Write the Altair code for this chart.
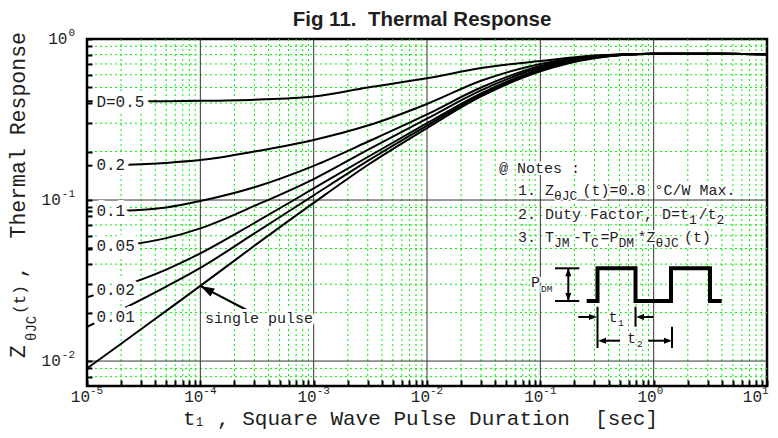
import math
import altair as alt
import pandas as pd

W, H = 680, 347
XMIN, XMAX = 1e-5, 10.0
YMIN, YMAX = 0.007, 1.0
MONO = "Liberation Mono"
SANS = "Liberation Sans"
INK = "#1e1e1e"
NB = "\u00a0"

# ---------------- data ----------------
t_vals = [1e-5, 2e-5, 5e-5, 1e-4, 3e-4, 1e-3, 3e-3, 1e-2, 3e-2, 1e-1, 3e-1, 1, 3, 10]
z_d05 = [0.41, 0.41, 0.411, 0.413, 0.42, 0.44, 0.50, 0.57, 0.66, 0.73, 0.79, 0.81, 0.81, 0.805]
z_d02 = [0.163, 0.165, 0.170, 0.177, 0.200, 0.236, 0.29, 0.395, 0.55, 0.70, 0.785, 0.81, 0.81, 0.805]
z_d01 = [0.085, 0.0858, 0.090, 0.0986, 0.120, 0.163, 0.23, 0.34, 0.50, 0.68, 0.78, 0.81, 0.81, 0.805]
z_d005 = [0.050, 0.052, 0.058, 0.0667, 0.092, 0.135, 0.205, 0.32, 0.48, 0.665, 0.775, 0.81, 0.81, 0.805]
z_d002 = [0.0249, 0.029, 0.037, 0.0466, 0.072, 0.118, 0.185, 0.30, 0.46, 0.65, 0.77, 0.81, 0.81, 0.805]
z_d001 = [0.0163, 0.0208, 0.029, 0.0379, 0.062, 0.107, 0.175, 0.29, 0.45, 0.64, 0.765, 0.81, 0.81, 0.805]
z_single = [0.009, 0.0128, 0.0205, 0.0293, 0.052, 0.096, 0.165, 0.28, 0.44, 0.63, 0.76, 0.81, 0.81, 0.805]
series_names = ["D=0.5", "0.2", "0.1", "0.05", "0.02", "0.01", "single pulse"]
series_values = [z_d05, z_d02, z_d01, z_d005, z_d002, z_d001, z_single]

curve_labels = ["D=0.5", "0.2", "0.1", "0.05", "0.02", "0.01"]
curve_label_z = [0.409, 0.165, 0.0859, 0.0516, 0.0276, 0.0188]
curve_label_t = 1.21e-5

x_major = [1e-5, 1e-4, 1e-3, 1e-2, 1e-1, 1.0, 10.0]
x_exp = ["-5", "-4", "-3", "-2", "-1", "0", "1"]
y_major = [0.01, 0.1, 1.0]
y_exp = ["-2", "-1", "0"]
x_minor = [round(m * 10.0 ** e, 12) for e in range(-5, 1) for m in range(2, 10)]
y_minor = [0.008, 0.009] + [round(m * 10.0 ** e, 12) for e in (-2, -1) for m in range(2, 10)]


# ---------------- helpers (plot-relative pixels -> data) ----------------
def t_at(px):
    lo, hi = math.log10(XMIN), math.log10(XMAX)
    return 10 ** (lo + px / W * (hi - lo))


def px_of(t):
    lo, hi = math.log10(XMIN), math.log10(XMAX)
    return (math.log10(t) - lo) / (hi - lo) * W


def z_at(py):
    lo, hi = math.log10(YMIN), math.log10(YMAX)
    return 10 ** (hi - py / H * (hi - lo))


xs = alt.Scale(type="log", domain=[XMIN, XMAX], nice=False)
ys = alt.Scale(type="log", domain=[YMIN, YMAX], nice=False)
xaxis = alt.Axis(values=x_minor + x_major, labels=False, grid=False, domain=False, title=None,
                 ticks=True, tickSize=6, tickWidth=2, tickColor="black", offset=-6, zindex=1)
yaxis = alt.Axis(values=y_minor + y_major, labels=False, grid=False, domain=False, title=None,
                 ticks=True, tickSize=5, tickWidth=2, tickColor="black", offset=-5, zindex=1)


def X(f="t"):
    return alt.X(f"{f}:Q", scale=xs, axis=xaxis)


def Y(f="z"):
    return alt.Y(f"{f}:Q", scale=ys, axis=yaxis)


def text_rows(rows):
    return pd.DataFrame([{"t": t_at(px), "z": z_at(py), "label": s} for px, py, s in rows])


def text_layers(rows, size, halo=0, align="left", baseline="alphabetic", font=MONO):
    df = text_rows(rows)
    enc = dict(x=X(), y=Y(), text=alt.Text("label:N"))
    out = []
    if halo:
        out.append(alt.Chart(df).mark_text(font=font, fontSize=size, align=align, baseline=baseline,
                                           color="white", stroke="white", strokeWidth=halo,
                                           strokeJoin="round").encode(**enc))
    out.append(alt.Chart(df).mark_text(font=font, fontSize=size, align=align, baseline=baseline,
                                       color=INK).encode(**enc))
    return out


def lay(x0, base, parts, adv=9.0, sadv=9.5, sdy=5):
    main, sub = [], []
    x = x0
    for txt, k in parts:
        if k == "n":
            main.append((x, base, txt))
            x += adv * len(txt)
        else:
            sub.append((x, base + sdy, txt))
            x += sadv * len(txt)
    return main, sub


def vtext(txt, px, py, size, angle=0, align="left", weight="normal", font=MONO):
    return alt.Chart(pd.DataFrame({"a": [0]})).mark_text(
        font=font, fontSize=size, align=align, baseline="alphabetic", angle=angle,
        fontWeight=weight, color=INK, text=txt).encode(x=alt.value(px), y=alt.value(py))


layers = []

# ---------------- grid ----------------
layers.append(alt.Chart(pd.DataFrame({"t": x_minor})).mark_rule(
    color="#00ee00", strokeWidth=1, strokeDash=[2, 3]).encode(x=X()))
layers.append(alt.Chart(pd.DataFrame({"z": y_minor})).mark_rule(
    color="#00ee00", strokeWidth=1, strokeDash=[2, 3]).encode(y=Y()))
layers.append(alt.Chart(pd.DataFrame({"t": x_major[1:-1]})).mark_rule(
    color="#333333", strokeWidth=1).encode(x=X()))
layers.append(alt.Chart(pd.DataFrame({"z": y_major[:-1]})).mark_rule(
    color="#333333", strokeWidth=1).encode(y=Y()))

# ---------------- curves ----------------
curve_df = pd.DataFrame([{"t": t, "z": z, "series": name}
                         for name, vals in zip(series_names, series_values)
                         for t, z in zip(t_vals, vals)])
layers.append(alt.Chart(curve_df).mark_line(color="black", strokeWidth=2, interpolate="monotone",
                                            clip=True).encode(x=X(), y=Y(), detail="series:N"))

# curve labels
lab_df = pd.DataFrame({"t": [curve_label_t] * len(curve_labels), "z": curve_label_z, "label": curve_labels})
for halo in (10, 0):
    kw = dict(color="white", stroke="white", strokeWidth=halo, strokeJoin="round") if halo else dict(color=INK)
    layers.append(alt.Chart(lab_df).mark_text(font=MONO, fontSize=16, align="left", baseline="middle", **kw)
                  .encode(x=X(), y=Y(), text="label:N"))

# ---------------- single pulse arrow ----------------
tip_t, tip_z = 1e-4, z_single[t_vals.index(1e-4)]
sp_df = pd.DataFrame([{"t": t_at(159.7), "z": z_at(271), "t2": tip_t, "z2": tip_z}])
layers.append(alt.Chart(sp_df).mark_rule(color="black", strokeWidth=2).encode(
    x=X(), y=Y(), x2="t2:Q", y2="z2:Q"))
layers.append(alt.Chart(pd.DataFrame([{"t": tip_t, "z": tip_z, "ang": 28.4}])).mark_point(
    shape="M0,0L2,-0.65L2,0.65Z", filled=True, color="black", size=196, opacity=1, strokeWidth=0
).encode(x=X(), y=Y(), angle=alt.Angle("ang:Q", scale=None)))
layers += text_layers([(118, 284, "single pulse")], 15, halo=6)

# ---------------- notes ----------------
note_main = [(412, 133.7, "@ Notes :")]
note_sub = []
for x0, base, parts in [
    (431, 156, [("1. Z", "n"), ("θJC", "s"), ("(t)=0.8 °C/W Max.", "n")]),
    (431, 179.7, [("2. Duty Factor, D=t", "n"), ("1", "s"), ("/t", "n"), ("2", "s")]),
    (431, 203, [("3. T", "n"), ("JM", "s"), ("-T", "n"), ("C", "s"), ("=P", "n"), ("DM", "s"),
                ("*Z", "n"), ("θJC", "s"), ("(t)", "n")]),
]:
    m, s = lay(x0, base, parts)
    note_main += m
    note_sub += s
layers += text_layers(note_main, 15, halo=4)
layers += text_layers(note_sub, 13, halo=3)

# ---------------- inset pulse diagram ----------------
pulse_px = [(499.7, 262), (510.5, 262), (510.5, 229.3), (548.5, 229.3), (548.5, 262),
            (584, 262), (584, 229.3), (623, 229.3), (623, 262), (634.7, 262)]
pulse_df = pd.DataFrame([{"t": t_at(a), "z": z_at(b), "i": i} for i, (a, b) in enumerate(pulse_px)])
layers.append(alt.Chart(pulse_df).mark_line(color="black", strokeWidth=4, strokeJoin="miter").encode(
    x=X(), y=Y(), order="i:Q"))

segs_px = [
    (481.3, 229.3, 481.3, 262), (468, 229.3, 492.3, 229.3), (468, 262, 492.3, 262),
    (510.5, 267.7, 510.5, 309), (548.5, 267.7, 548.5, 287.7), (585, 287.7, 585, 309),
    (491.3, 278, 505, 278), (566.3, 278, 554, 278), (533, 301.7, 516, 301.7), (561.3, 301.7, 580, 301.7),
]
seg_df = pd.DataFrame([{"t": t_at(a), "z": z_at(b), "t2": t_at(c), "z2": z_at(d)} for a, b, c, d in segs_px])
layers.append(alt.Chart(seg_df).mark_rule(color="black", strokeWidth=2).encode(
    x=X(), y=Y(), x2="t2:Q", y2="z2:Q"))
heads_px = [(510, 278, 180), (549, 278, 0), (511, 301.7, 0), (585, 301.7, 180),
            (481.3, 229.3, 90), (481.3, 262, 270)]
head_df = pd.DataFrame([{"t": t_at(a), "z": z_at(b), "ang": g} for a, b, g in heads_px])
layers.append(alt.Chart(head_df).mark_point(
    shape="M0,0L2,-0.75L2,0.75Z", filled=True, color="black", size=64, opacity=1, strokeWidth=0
).encode(x=X(), y=Y(), angle=alt.Angle("ang:Q", scale=None)))
layers += text_layers([(444, 247.7, "P"), (521.5, 282.7, "t"), (540, 304.3, "t")], 15, halo=4)
layers += text_layers([(454, 253, "DM"), (531, 286.5, "1"), (550, 308, "2")], 9.5, halo=3)

# ---------------- tick labels ----------------
# "10" right edge just right of each tick; the last one is pulled in so it stays on the page
x_lab_px = [px_of(v) + 3 for v in x_major]
x_lab_px[-1] = px_of(x_major[-1]) - 5
xl_df = pd.DataFrame({"tl": [t_at(p) for p in x_lab_px], "exp": x_exp})
layers.append(alt.Chart(xl_df).mark_text(font=MONO, fontSize=16, align="right", baseline="alphabetic",
                                         color=INK, text="10").encode(x=X("tl"), y=alt.value(H + 16)))
layers.append(alt.Chart(xl_df).mark_text(font=MONO, fontSize=11, align="left", baseline="alphabetic",
                                         color=INK).encode(x=X("tl"), y=alt.value(H + 8), text="exp:N"))
yl_df = pd.DataFrame({"z": y_major, "exp": y_exp,
                      "t10": [t_at(-12 - 6.6 * len(e) - 1) for e in y_exp],
                      "texp": [t_at(-12)] * len(y_exp)})
layers.append(alt.Chart(yl_df).mark_text(font=MONO, fontSize=16, align="right", baseline="middle",
                                         color=INK, text="10").encode(x=X("t10"), y=Y()))
layers.append(alt.Chart(yl_df).mark_text(font=MONO, fontSize=11, align="right", baseline="middle", dy=-6,
                                         color=INK).encode(x=X("texp"), y=Y(), text="exp:N"))

# ---------------- titles ----------------
layers.append(vtext(f"Fig 11.{NB}{NB}Thermal Response", 335, -13.5, 20.5, align="center", weight="bold",
                    font=SANS))
layers.append(vtext("t", 96, 386, 21))
layers.append(vtext("1", 109, 387, 12))
layers.append(vtext(f",{NB}Square Wave Pulse Duration{NB}{NB}[sec]", 130, 386, 21))
layers.append(vtext("Z", -62, 319, 21.5, angle=270))
layers.append(vtext("θJC", -51, 302, 14, angle=270))
layers.append(vtext("(t)", -62, 275, 16, angle=270))
layers.append(vtext(",", -62, 239.5, 21.5, angle=270))
layers.append(vtext("Thermal Response", -62, 199.5, 21.5, angle=270))

chart = alt.layer(*layers).properties(
    width=W, height=H,
    padding={"left": 79, "top": 31, "right": 3, "bottom": 44},
    autosize=alt.AutoSizeParams(type="none"),
    background="white",
).configure_view(stroke="black", strokeWidth=2.5)

chart.save("out.html", embed_options={"renderer": "svg", "actions": False})
